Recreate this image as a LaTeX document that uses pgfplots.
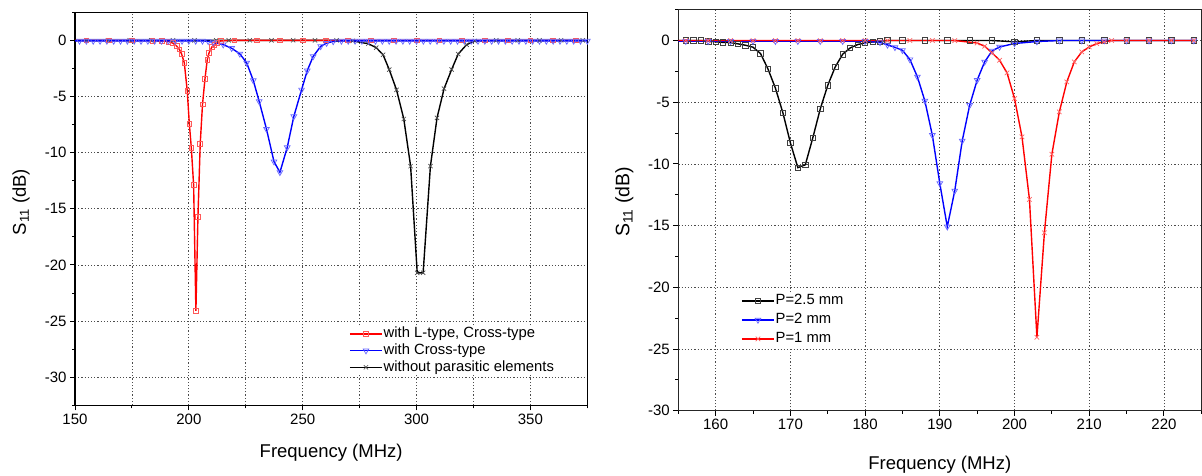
\documentclass[border=0pt]{standalone}
\usepackage{pgfplots}
\pgfplotsset{compat=1.18}
\usepackage{fontspec}
\setmainfont{Liberation Sans}
\begin{document}
\begin{tikzpicture}
\useasboundingbox (0,0) rectangle (1202pt,476pt);
\pgfplotsset{
  myaxis/.style={
    scale only axis,
    axis line style={line width=1.2pt},
    tick align=outside, tick pos=left,
    major tick length=5pt, minor tick length=3pt,
    every tick/.style={black, line width=1pt},
    tick label style={font=\fontsize{15}{17}\selectfont},
    /pgf/number format/assume math mode=true,
    xlabel style={font=\fontsize{18.5}{21}\selectfont},
    ylabel style={font=\fontsize{18.5}{21}\selectfont},
    grid style={black!70, line width=0.8pt, dash pattern=on 1.2pt off 2pt},
    minor grid style={black!70, line width=0.8pt, dash pattern=on 1.2pt off 2pt},
    ymajorgrids, xmajorgrids,
    legend cell align=left,
    legend image code/.code={\draw[mark repeat=2,mark phase=2] plot coordinates {(0pt,0pt)(16pt,0pt)(32pt,0pt)};},
  },
  redsq/.style={red, line width=1.4pt, mark=square, mark size=2.4pt, mark options={draw=red!65, line width=0.7pt, solid, fill=none}},
  bluetri/.style={blue, line width=1.4pt, mark=triangle, mark size=3.3pt, mark options={draw=blue!60, line width=0.7pt, solid, fill=none, rotate=180}},
  blackx/.style={black, line width=1.4pt, mark=x, mark size=3pt, mark options={draw=black!70, line width=0.7pt, solid}},
  blacksq/.style={black, line width=1.4pt, mark=square, mark size=2.7pt, mark options={draw=black!75, line width=0.7pt, solid, fill=none}},
  redx/.style={red, line width=1.4pt, mark=x, mark size=3.2pt, mark options={draw=red!60, line width=0.7pt, solid}},
}
% ---------------- left panel ----------------
\begin{axis}[myaxis, at={(75pt,70.7pt)}, anchor=south west, width=512.3pt, height=393pt,
  xmin=150, xmax=375, ymin=-32.5, ymax=2.5,
  xtick={150,200,...,350}, minor xtick={175,225,...,375}, xminorgrids,
  ytick={-30,-25,...,0}, minor ytick={-32.5,-27.5,...,2.5},
  xlabel={Frequency (MHz)}, ylabel={S\textsubscript{11} (dB)},
  xlabel style={at={(axis description cs:0.5,-0.133)}, anchor=base},
  ylabel style={at={(axis description cs:-0.105,0.517)}, anchor=center},
  legend style={at={(axis description cs:0.535,0.202)}, anchor=north west, draw=none, fill=white, inner sep=0pt,
    font=\fontsize{14.8}{16}\selectfont, row sep=1.2pt, nodes={inner sep=1pt, text height=10.5pt, text depth=3pt}},
]
\addlegendimage{redsq}\addlegendentry{with L-type, Cross-type}
\addlegendimage{bluetri}\addlegendentry{with Cross-type}
\addlegendimage{blackx}\addlegendentry{without parasitic elements}
% black: without parasitic elements
\addplot[blackx, mark phase=2, forget plot] coordinates {
(150,0) (155,0) (164.5,0) (174,0) (183.5,0) (193,0) (202.5,0) (212,0) (217.5,0)
(226.8,0) (236.3,0) (245.8,0) (255.4,0) (264.9,0) (272,-0.05) (278.8,-0.3) (282.3,-0.65)
(285.3,-1.28) (288.0,-2.6) (291.2,-4.4) (294.4,-7.0) (297.4,-11.2) (300.3,-20.7) (302.9,-20.7)
(306.1,-11.2) (309.0,-6.9) (312.1,-4.3) (315.4,-2.6) (318.3,-1.22) (322.0,-0.38) (325.6,-0.05)
(335,0) (344.5,0) (354,0) (363.5,0) (373,0)
};
% red: with L-type, Cross-type
\addplot[redsq, mark phase=2, forget plot] coordinates {
(150,0) (155,0) (165,0) (175,0) (184,-0.02) (188,-0.05) (191,-0.1) (193,-0.25)
(194.6,-0.5) (195.8,-0.8) (196.8,-1.2) (198.0,-2.0) (199.3,-4.5) (200.2,-7.4) (201.1,-9.6)
(202.1,-12.9) (203.1,-24.1) (204.0,-15.7) (205.0,-9.2) (206.0,-5.7) (207.1,-3.4) (208.1,-1.7)
(208.9,-1.1) (210.1,-0.6) (211.2,-0.4) (212.2,-0.2) (214,-0.05)
(220,0) (230,0) (240,0) (250,0) (260,0) (270,0) (280,0) (290,0) (300,0) (310,0)
(320,0) (330,0) (340,0) (350,0) (360,0) (370,0)
};
% blue: with Cross-type
\addplot[bluetri, mark phase=2, forget plot] coordinates {
(150,-0.05) (152,-0.05) (155,-0.05) (158,-0.05) (161,-0.05) (164,-0.05) (167,-0.05) (170,-0.05)
(173,-0.05) (176,-0.05) (179,-0.05) (182,-0.05) (185,-0.05) (188,-0.05) (191,-0.05) (194,-0.05)
(197,-0.05) (200,-0.05) (203,-0.05) (206,-0.05) (208.5,-0.08)
(210.7,-0.18) (215.1,-0.38) (218.8,-0.7) (222.4,-1.2) (225.4,-2.0) (228.3,-3.57) (230.9,-5.44)
(234.1,-7.9) (237.4,-10.8) (240.0,-11.75) (243.2,-9.54) (246.1,-6.78) (249.5,-4.4) (252.0,-2.7)
(254.6,-1.43) (257.9,-0.53) (260.5,-0.24) (263.4,-0.1)
(267,-0.05) (270,-0.05) (273,-0.05) (276,-0.05) (279,-0.05) (282,-0.05) (285,-0.05) (288,-0.05)
(291,-0.05) (294,-0.05) (297,-0.05) (300,-0.05) (303,-0.05) (306,-0.05) (309,-0.05) (312,-0.05)
(315,-0.05) (318,-0.05) (321,-0.05) (324,-0.05) (327,-0.05) (330,-0.05) (333,-0.05) (336,-0.05)
(339,-0.05) (342,-0.05) (345,-0.05) (348,-0.05) (351,-0.05) (354,-0.05) (357,-0.05) (360,-0.05)
(363,-0.05) (366,-0.05) (369,-0.05) (372,-0.05) (375,-0.05)
};
\end{axis}
% ---------------- right panel ----------------
\begin{axis}[myaxis, at={(678.3pt,65.3pt)}, anchor=south west, width=523pt, height=401pt,
  axis line style={line width=1.4pt, black!85},
  xmin=155, xmax=225, ymin=-30, ymax=2.5,
  xtick={160,170,...,220}, minor xtick={155,165,...,225},
  ytick={-30,-25,...,0}, minor ytick={-27.5,-22.5,...,2.5},
  xlabel={Frequency (MHz)}, ylabel={S\textsubscript{11} (dB)},
  xlabel style={at={(axis description cs:0.5,-0.147)}, anchor=base},
  ylabel style={at={(axis description cs:-0.103,0.521)}, anchor=center, font=\fontsize{19.5}{21}\selectfont},
  legend style={at={(axis description cs:0.12,0.2935)}, anchor=north west, draw=none, fill=white, inner sep=0pt,
    font=\fontsize{14.8}{16}\selectfont, row sep=3.5pt, nodes={inner sep=1pt, text height=10.5pt, text depth=3pt}},
]
\addplot[blacksq, mark phase=2] coordinates {
(155,0) (156,0) (157,0) (158,0) (159,-0.05) (160,-0.1) (161,-0.15) (162,-0.17) (163,-0.27)
(164,-0.38) (165,-0.54) (166,-1.05) (167,-2.3) (168,-3.86) (169,-5.86) (170,-8.29) (171,-10.3)
(172,-10.07) (173,-7.89) (174,-5.54) (175,-3.64) (176,-2.14) (177,-1.11) (178,-0.6) (179,-0.33)
(180,-0.19) (181,-0.11) (182,-0.05) (183,0) (185,0) (188,0) (191,0) (194,0) (197,0) (200,-0.1)
(203,0) (206,0) (209,0) (212,0) (215,0) (218,0) (221,0) (224,0)
};
\addlegendentry{P=2.5 mm}
\addplot[bluetri, mark phase=2] coordinates {
(155,-0.05) (156,-0.05) (159,-0.05) (162,-0.05) (165,-0.05) (168,-0.05) (171,-0.05) (174,-0.05)
(177,-0.05) (180,-0.05) (182,-0.15) (183,-0.35) (184,-0.55) (185,-0.79) (186,-1.54) (187,-2.94)
(188,-4.89) (189,-7.67) (190,-11.58) (191,-15.09) (192,-12.18) (193,-8.13) (194,-5.24) (195,-3.21)
(196,-1.73) (197,-0.84) (198,-0.52) (200,-0.24) (203,-0.08) (206,0) (209,0) (212,0) (215,0)
(218,0) (221,0) (224,0)
};
\addlegendentry{P=2 mm}
\addplot[redx, mark phase=2] coordinates {
(155,0) (156,0) (159,0) (162,0) (165,0) (168,0) (171,0) (174,0) (177,0) (180,0) (183,0) (186,0)
(189,0) (192,0) (195,-0.2) (196,-0.46) (197,-1.0) (198,-1.6) (199,-2.62) (200,-4.7) (201,-7.8)
(202,-12.88) (203,-24.05) (204,-15.58) (205,-9.21) (206,-5.78) (207,-3.35) (208,-1.73) (209,-0.92)
(210,-0.52) (211,-0.25) (212,-0.1) (213,0) (215,0) (218,0) (221,0) (224,0)
};
\addlegendentry{P=1 mm}
\end{axis}
\end{tikzpicture}
\end{document}
